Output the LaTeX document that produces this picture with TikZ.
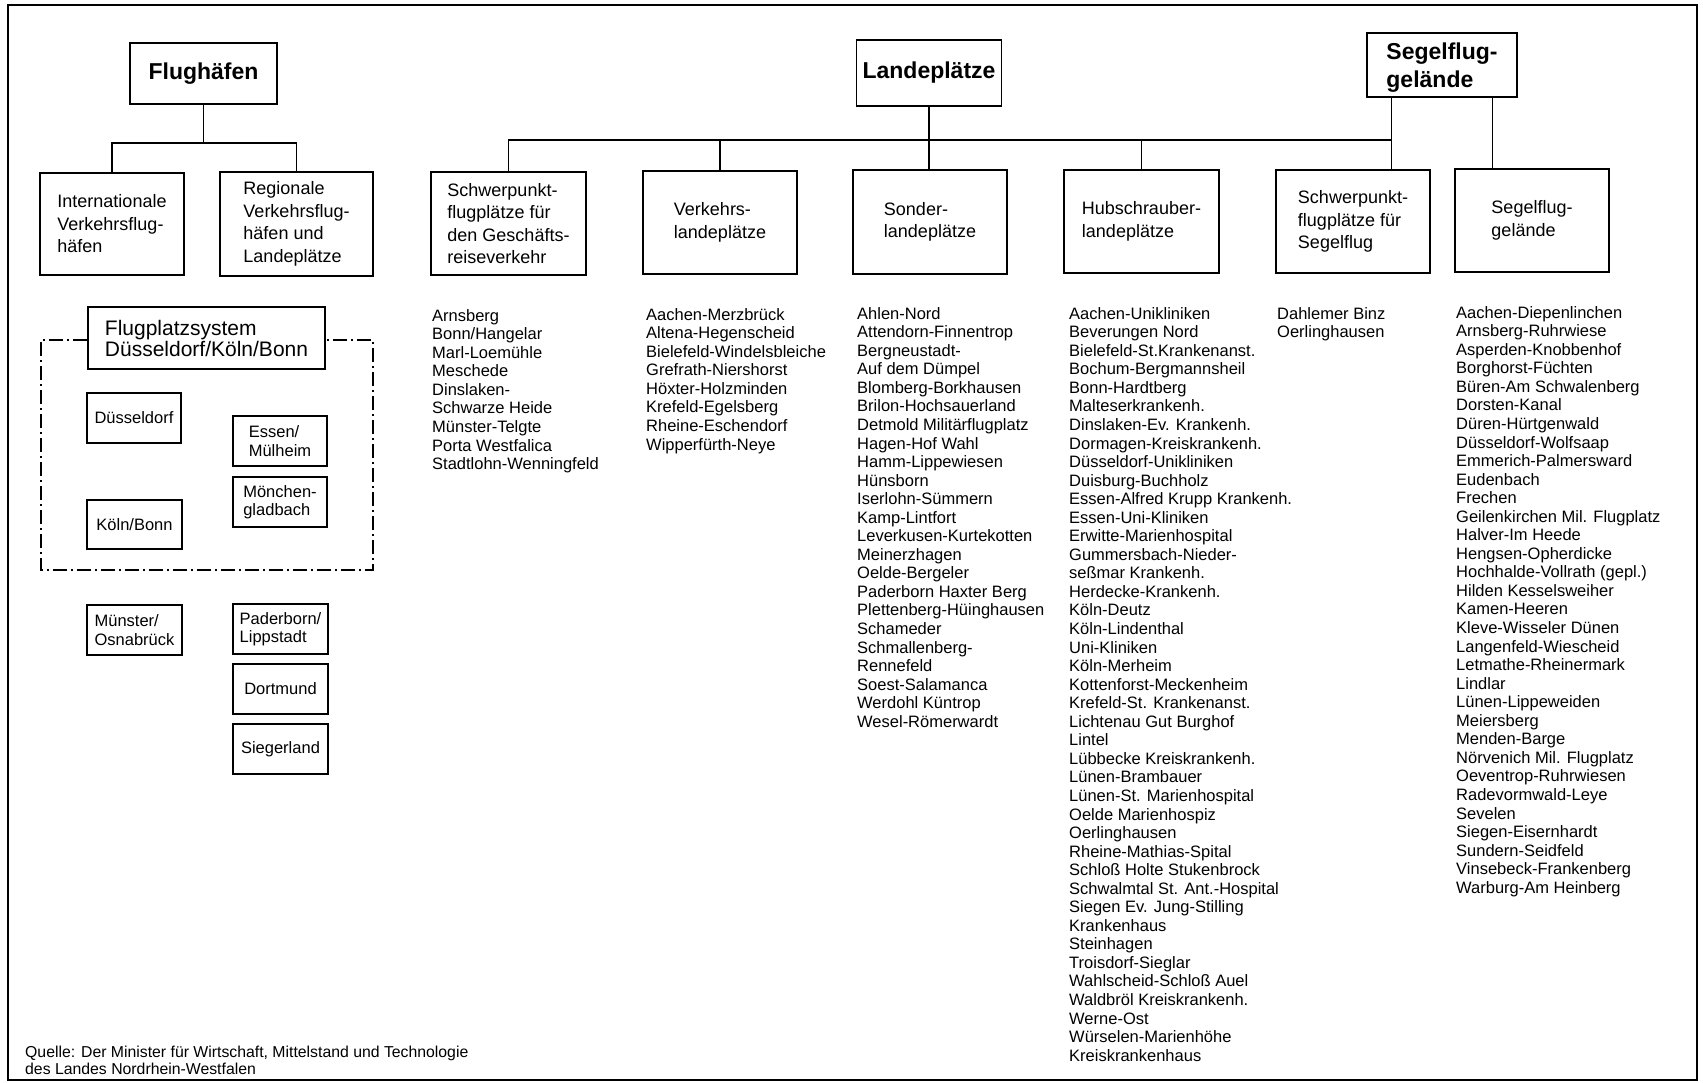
\documentclass[tikz,border=0pt]{standalone}
\usepackage{fontspec}
\setmainfont{Liberation Sans}
\usetikzlibrary{calc}
\begin{document}
\begin{tikzpicture}[x=1pt,y=-1pt]
\tikzset{
  box/.style={draw, line width=1.6pt, inner sep=0pt, align=left, font=\fontsize{18}{22.5}\selectfont},
  topbox/.style={box, font=\bfseries\fontsize{23}{28}\selectfont},
  smallbox/.style={box, minimum width=95pt, minimum height=50pt, font=\fontsize{16.5}{18.5}\selectfont},
  colbox/.style={box, minimum width=154pt, minimum height=103pt},
  liste/.style={anchor=north west, inner sep=0pt, align=left, font=\fontsize{16.5}{18.55}\selectfont},
  conn/.style={line width=1.6pt},
  dashdot/.style={line width=1.3pt, dash pattern=on 14pt off 4pt on 2pt off 4pt},
}
\useasboundingbox (0,0) rectangle (1703,1083);
\draw[line width=2pt] (8,5) rectangle (1697,1080);

% --- Flughaefen ---
\node[topbox, minimum width=147pt, minimum height=61pt] (flug) at (203.5,73.5) {Flughäfen};
\node[box, minimum width=144pt, minimum height=102pt] (intl) at (112,224) {Internationale\\Verkehrsflug-\\häfen};
\node[box, minimum width=153pt, minimum height=104pt] (regio) at (296.5,224) {Regionale\\Verkehrsflug-\\häfen und\\Landeplätze};
\coordinate (fj) at (203.5,143);
\draw[conn] (flug.south) -- (fj);
\draw[conn] (intl.north) |- (fj) -| (regio.north);

\node[box, minimum width=237pt, minimum height=62pt, font=\fontsize{21}{21}\selectfont] (fps) at (206.5,338) {Flugplatzsystem\\Düsseldorf/Köln/Bonn};
\coordinate (dl) at (41,570);
\coordinate (dr) at (373,570);
\draw[dashdot] (fps.west |- 0,340) -| (dl) -- (dr) |- (fps.east |- 0,340);

\node[smallbox, minimum width=94pt] (dus) at (134,418) {Düsseldorf};
\node[smallbox, minimum height=49pt] (koeln) at (134.5,524.5) {Köln/Bonn};
\node[smallbox, minimum width=94pt] (essen) at (280,441) {Essen/\\Mülheim};
\node[smallbox, minimum width=94pt] (mg) at (280,502) {Mönchen-\\gladbach};
\node[smallbox] (muen) at (134.5,630) {Münster/\\Osnabrück};
\node[smallbox] (pad) at (280.5,629) {Paderborn/\\Lippstadt};
\node[smallbox] (dort) at (280.5,689) {Dortmund};
\node[smallbox] (sieg) at (280.5,749) {Siegerland};

% --- Landeplaetze ---
\node[topbox, minimum width=145pt, minimum height=66pt] (lande) at (929,73) {Landeplätze};
\node[topbox, minimum width=150pt, minimum height=64pt, text depth=0pt] (segel) at (1442,65) {Segelflug-\\gelände};

\node[colbox, minimum width=155pt] (sp1) at (508.5,223.5) {Schwerpunkt-\\flugplätze für\\den Geschäfts-\\reiseverkehr};
\node[colbox] (vl) at (720,222.5) {Verkehrs-\\landeplätze};
\node[colbox, minimum height=104pt] (sl) at (930,222) {Sonder-\\landeplätze};
\node[colbox, minimum width=155pt] (hl) at (1141.5,221.5) {Hubschrauber-\\landeplätze};
\node[colbox] (sps) at (1353,221.5) {Schwerpunkt-\\flugplätze für\\Segelflug};
\node[colbox] (sg) at (1532,220.5) {Segelflug-\\gelände};

\coordinate (bus) at (0,140);
\coordinate (s1) at ($(segel.south west)!0.1667!(segel.south east)$);
\coordinate (s2) at ($(segel.south west)!0.8333!(segel.south east)$);
\draw[conn] (sp1.north) |- (s1 |- bus);
\draw[conn] (s1) -- (s1 |- sps.north);
\draw[conn] (s2) -- (s2 |- sg.north);
\draw[conn] (lande.south) -- (lande.south |- sl.north);
\draw[conn] (vl.north) -- (vl.north |- bus);
\draw[conn] (hl.north) -- (hl.north |- bus);

% --- lists ---
\node[liste] (l1) at (432,309) {Arnsberg\\Bonn/Hangelar\\Marl-Loemühle\\Meschede\\Dinslaken-\\Schwarze Heide\\Münster-Telgte\\Porta Westfalica\\Stadtlohn-Wenningfeld};
\node[liste] (l2) at (646,308) {Aachen-Merzbrück\\Altena-Hegenscheid\\Bielefeld-Windelsbleiche\\Grefrath-Niershorst\\Höxter-Holzminden\\Krefeld-Egelsberg\\Rheine-Eschendorf\\Wipperfürth-Neye};
\node[liste] (l3) at (857,307) {Ahlen-Nord\\Attendorn-Finnentrop\\Bergneustadt-\\Auf dem Dümpel\\Blomberg-Borkhausen\\Brilon-Hochsauerland\\Detmold Militärflugplatz\\Hagen-Hof Wahl\\Hamm-Lippewiesen\\Hünsborn\\Iserlohn-Sümmern\\Kamp-Lintfort\\Leverkusen-Kurtekotten\\Meinerzhagen\\Oelde-Bergeler\\Paderborn Haxter Berg\\Plettenberg-Hüinghausen\\Schameder\\Schmallenberg-\\Rennefeld\\Soest-Salamanca\\Werdohl Küntrop\\Wesel-Römerwardt};
\node[liste] (l4) at (1069,307) {Aachen-Unikliniken\\Beverungen Nord\\Bielefeld-St.Krankenanst.\\Bochum-Bergmannsheil\\Bonn-Hardtberg\\Malteserkrankenh.\\Dinslaken-Ev. Krankenh.\\Dormagen-Kreiskrankenh.\\Düsseldorf-Unikliniken\\Duisburg-Buchholz\\Essen-Alfred Krupp Krankenh.\\Essen-Uni-Kliniken\\Erwitte-Marienhospital\\Gummersbach-Nieder-\\seßmar Krankenh.\\Herdecke-Krankenh.\\Köln-Deutz\\Köln-Lindenthal\\Uni-Kliniken\\Köln-Merheim\\Kottenforst-Meckenheim\\Krefeld-St. Krankenanst.\\Lichtenau Gut Burghof\\Lintel\\Lübbecke Kreiskrankenh.\\Lünen-Brambauer\\Lünen-St. Marienhospital\\Oelde Marienhospiz\\Oerlinghausen\\Rheine-Mathias-Spital\\Schloß Holte Stukenbrock\\Schwalmtal St. Ant.-Hospital\\Siegen Ev. Jung-Stilling\\Krankenhaus\\Steinhagen\\Troisdorf-Sieglar\\Wahlscheid-Schloß Auel\\Waldbröl Kreiskrankenh.\\Werne-Ost\\Würselen-Marienhöhe\\Kreiskrankenhaus};
\node[liste] (l5) at (1277,307) {Dahlemer Binz\\Oerlinghausen};
\node[liste] (l6) at (1456,306) {Aachen-Diepenlinchen\\Arnsberg-Ruhrwiese\\Asperden-Knobbenhof\\Borghorst-Füchten\\Büren-Am Schwalenberg\\Dorsten-Kanal\\Düren-Hürtgenwald\\Düsseldorf-Wolfsaap\\Emmerich-Palmersward\\Eudenbach\\Frechen\\Geilenkirchen Mil. Flugplatz\\Halver-Im Heede\\Hengsen-Opherdicke\\Hochhalde-Vollrath (gepl.)\\Hilden Kesselsweiher\\Kamen-Heeren\\Kleve-Wisseler Dünen\\Langenfeld-Wiescheid\\Letmathe-Rheinermark\\Lindlar\\Lünen-Lippeweiden\\Meiersberg\\Menden-Barge\\Nörvenich Mil. Flugplatz\\Oeventrop-Ruhrwiesen\\Radevormwald-Leye\\Sevelen\\Siegen-Eisernhardt\\Sundern-Seidfeld\\Vinsebeck-Frankenberg\\Warburg-Am Heinberg};

\node[liste, font=\fontsize{15.8}{16.5}\selectfont] (quelle) at (25,1046) {Quelle: Der Minister für Wirtschaft, Mittelstand und Technologie\\des Landes Nordrhein-Westfalen};
\end{tikzpicture}
\end{document}
